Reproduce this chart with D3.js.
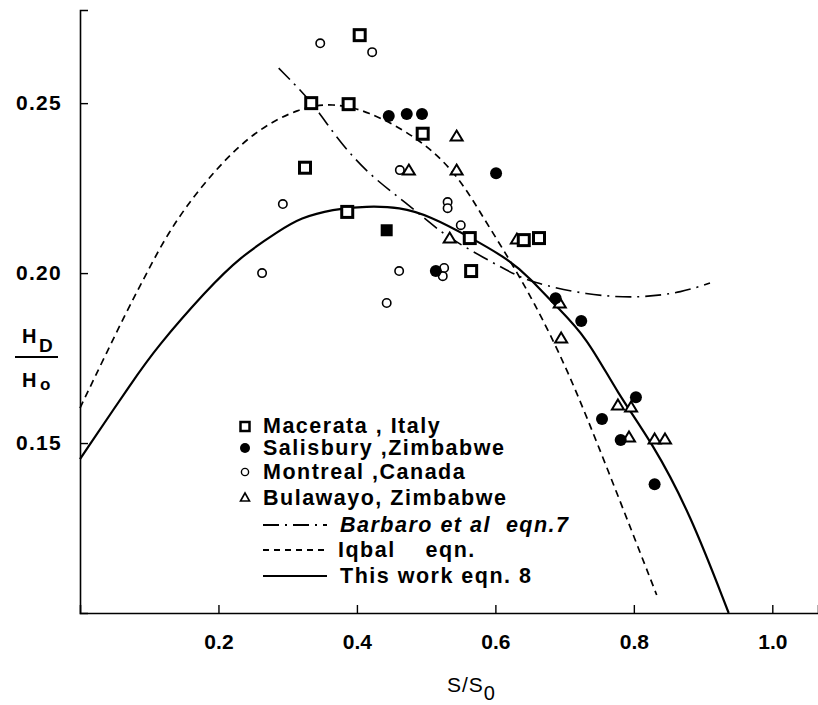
<!DOCTYPE html>
<html><head><meta charset="utf-8">
<script src="https://cdn.jsdelivr.net/npm/d3@7/dist/d3.min.js"></script>
<style>
body{margin:0;background:#fff}
svg{display:block}
text{font-family:"Liberation Sans",Arial,Helvetica,sans-serif;fill:#000}
</style>
</head><body>
<svg id="chart" width="818" height="705"></svg>
<script>
// ---- data ----
const xTicks = [0.2, 0.4, 0.6, 0.8, 1.0];
const xTickLabels = ["0.2", "0.4", "0.6", "0.8", "1.0"];
const yTicks = [0.15, 0.20, 0.25];
const yTickLabels = ["0.15", "0.20", "0.25"];

const macerata = [[0.404,0.270],[0.334,0.250],[0.388,0.2497],[0.495,0.241],[0.325,0.231],
  [0.386,0.218],[0.563,0.2103],[0.641,0.2097],[0.663,0.2103],[0.565,0.2006]];
const macerataFilled = [[0.443,0.2126]];
const salisbury = [[0.446,0.2462],[0.472,0.2468],[0.494,0.2468],[0.601,0.2294],[0.514,0.2006],
  [0.687,0.1926],[0.724,0.1859],[0.754,0.1571],[0.803,0.1635],[0.781,0.1509],[0.830,0.1379]];
const montreal = [[0.347,0.2676],[0.422,0.2650],[0.293,0.2203],[0.263,0.2000],[0.443,0.1912],
  [0.461,0.2006],[0.462,0.2303],[0.531,0.2209],[0.531,0.2191],[0.550,0.2141],[0.526,0.2015],[0.524,0.1991]];
const bulawayo = [[0.475,0.2303],[0.544,0.2403],[0.544,0.2303],[0.534,0.2103],[0.631,0.2100],
  [0.693,0.1912],[0.695,0.1809],[0.777,0.1612],[0.796,0.1606],[0.793,0.1518],[0.830,0.1512],[0.845,0.1512]];

const barbaro = [[0.287,0.2603],[0.337,0.2500],[0.365,0.2412],[0.414,0.2294],[0.472,0.2206],
  [0.520,0.2121],[0.563,0.2068],[0.621,0.2003],[0.650,0.1974],[0.732,0.1935],[0.809,0.1926],
  [0.871,0.1944],[0.910,0.1971]];
const iqbal = [[0.000,0.1603],[0.068,0.1891],[0.087,0.1962],[0.126,0.2118],[0.178,0.2265],
  [0.246,0.2412],[0.318,0.2488],[0.365,0.2500],[0.414,0.2479],[0.488,0.2400],[0.544,0.2294],
  [0.582,0.2165],[0.621,0.2038],[0.654,0.1921],[0.703,0.1724],[0.761,0.1429],[0.833,0.1053]];
const thisWork = [[0.000,0.1453],[0.077,0.1685],[0.111,0.1782],[0.183,0.1950],[0.231,0.2047],
  [0.289,0.2126],[0.318,0.2162],[0.365,0.2188],[0.414,0.2197],[0.462,0.2194],[0.505,0.2168],
  [0.563,0.2106],[0.621,0.2038],[0.650,0.1985],[0.686,0.1906],[0.732,0.1812],[0.776,0.1647],
  [0.827,0.1500],[0.881,0.1294],[0.937,0.1000]];

const legendSeries = ["Macerata , Italy", "Salisbury ,Zimbabwe", "Montreal ,Canada", "Bulawayo, Zimbabwe"];
const legendLines = ["Barbaro et al  eqn.7", "Iqbal    eqn.", "This work eqn. 8"];

// ---- drawing ----
const svg = d3.select("#chart");
const x = d3.scaleLinear().domain([0, 1.066]).range([80, 818]);
const y = d3.scaleLinear().domain([0.10, 0.2774]).range([613, 10]);

// axes
const xAxis = d3.axisBottom(x).tickValues(xTicks).tickSize(-8).tickFormat((d,i)=>xTickLabels[i]).tickPadding(17);
const gx = svg.append("g").attr("transform", "translate(0,613)").call(xAxis);
gx.select(".domain").attr("stroke","#000").attr("stroke-width",1.6);
gx.selectAll(".tick line").attr("stroke","#000").attr("stroke-width",1.4);
gx.selectAll(".tick text").attr("font-size",21).attr("font-weight","bold").attr("dy","0.9em")
  .style("font-family","'Liberation Sans',Arial,sans-serif").attr("fill","#000");

const yAxis = d3.axisLeft(y).tickValues(yTicks).tickSize(-8).tickFormat((d,i)=>yTickLabels[i]).tickPadding(18);
const gy = svg.append("g").attr("transform", "translate(80,0)").call(yAxis);
gy.select(".domain").attr("stroke","#000").attr("stroke-width",1.6);
gy.selectAll(".tick line").attr("stroke","#000").attr("stroke-width",1.4);
gy.selectAll(".tick text").attr("font-size",21).attr("font-weight","bold")
  .style("letter-spacing","1.3px")
  .style("font-family","'Liberation Sans',Arial,sans-serif").attr("fill","#000");

// curves
const line = d3.line().x(d=>x(d[0])).y(d=>y(d[1])).curve(d3.curveBasis);
svg.append("path").datum(barbaro).attr("d", line).attr("fill","none").attr("stroke","#000")
  .attr("stroke-width",1.6).attr("stroke-dasharray","16,6,2,6");
svg.append("path").datum(iqbal).attr("d", line).attr("fill","none").attr("stroke","#000")
  .attr("stroke-width",1.7).attr("stroke-dasharray","7,5");
svg.append("path").datum(thisWork).attr("d", line).attr("fill","none").attr("stroke","#000")
  .attr("stroke-width",2.2);

// markers
const g = svg.append("g");
g.selectAll(".mon").data(montreal).join("circle")
  .attr("cx",d=>x(d[0])).attr("cy",d=>y(d[1])).attr("r",4.2)
  .attr("fill","#fff").attr("stroke","#000").attr("stroke-width",1.6);
g.selectAll(".bul").data(bulawayo).join("path")
  .attr("transform",d=>`translate(${x(d[0])},${y(d[1])})`)
  .attr("d","M0,-5.5L6,4.5L-6,4.5Z")
  .attr("fill","#fff").attr("stroke","#000").attr("stroke-width",2);
g.selectAll(".mac").data(macerata).join("rect")
  .attr("x",d=>x(d[0])-5.5).attr("y",d=>y(d[1])-5.5).attr("width",11).attr("height",11)
  .attr("fill","#fff").attr("stroke","#000").attr("stroke-width",3);
g.selectAll(".macf").data(macerataFilled).join("rect")
  .attr("x",d=>x(d[0])-6).attr("y",d=>y(d[1])-6).attr("width",12).attr("height",12)
  .attr("fill","#000");
g.selectAll(".sal").data(salisbury).join("circle")
  .attr("cx",d=>x(d[0])).attr("cy",d=>y(d[1])).attr("r",6)
  .attr("fill","#000");

// legend
const leg = svg.append("g");
const rowY = [433, 455, 479, 505];
legendSeries.forEach((t,i)=>{
  leg.append("text").attr("x",263).attr("y",rowY[i]).attr("font-size",21.5).attr("font-weight","bold")
    .style("letter-spacing","1.5px").style("white-space","pre").text(t);
});
leg.append("rect").attr("x",240.5).attr("y",422).attr("width",9).attr("height",9)
  .attr("fill","#fff").attr("stroke","#000").attr("stroke-width",2.5);
leg.append("circle").attr("cx",245).attr("cy",448).attr("r",5).attr("fill","#000");
leg.append("circle").attr("cx",245).attr("cy",472).attr("r",3.6).attr("fill","#fff").attr("stroke","#000").attr("stroke-width",1.4);
leg.append("path").attr("d","M245,493L249.5,501L240.5,501Z").attr("fill","#fff").attr("stroke","#000").attr("stroke-width",1.6);

const lineRowY = [532, 557, 583];
const lineX = [340, 338, 340];
const dashes = ["16,6,2,6", "6,5", null];
legendLines.forEach((t,i)=>{
  const p = leg.append("line").attr("x1",263).attr("x2",327).attr("y1",lineRowY[i]-7).attr("y2",lineRowY[i]-7)
    .attr("stroke","#000").attr("stroke-width",1.8);
  if (dashes[i]) p.attr("stroke-dasharray",dashes[i]);
  leg.append("text").attr("x",lineX[i]).attr("y",lineRowY[i]).attr("font-size",21.5).attr("font-weight","bold")
    .attr("font-style", i===0 ? "italic" : "normal")
    .style("letter-spacing","1.5px").style("white-space","pre").text(t);
});

// axis titles
const yt = svg.append("g");
yt.append("text").attr("x",22).attr("y",343).attr("font-size",20).attr("font-weight","bold").text("H");
yt.append("text").attr("x",39).attr("y",352).attr("font-size",19).attr("font-weight","bold").text("D");
yt.append("line").attr("x1",15).attr("x2",58).attr("y1",357).attr("y2",357).attr("stroke","#000").attr("stroke-width",1.8);
yt.append("text").attr("x",22).attr("y",387).attr("font-size",20).attr("font-weight","bold").text("H");
yt.append("text").attr("x",40).attr("y",390).attr("font-size",17).attr("font-weight","bold").text("o");

const xt = svg.append("text").attr("x",447).attr("y",692).attr("font-size",21).style("letter-spacing","1px");
xt.append("tspan").text("S/S");
xt.append("tspan").attr("dy",8).attr("font-size",20).text("0");
</script>
</body></html>
